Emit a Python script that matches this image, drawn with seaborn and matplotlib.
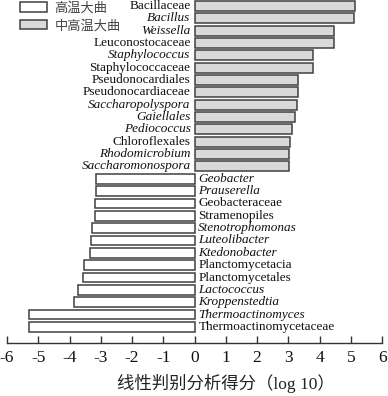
import matplotlib
matplotlib.use('Agg')
import pandas as pd
import seaborn as sns
import matplotlib.pyplot as plt
from matplotlib.patches import Patch

# taxa, top to bottom
taxa = ['Bacillaceae', 'Bacillus', 'Weissella', 'Leuconostocaceae', 'Staphylococcus',
        'Staphylococcaceae', 'Pseudonocardiales', 'Pseudonocardiaceae', 'Saccharopolyspora',
        'Gaiellales', 'Pediococcus', 'Chloroflexales', 'Rhodomicrobium', 'Saccharomonospora',
        'Geobacter', 'Prauserella', 'Geobacteraceae', 'Stramenopiles', 'Stenotrophomonas',
        'Luteolibacter', 'Ktedonobacter', 'Planctomycetacia', 'Planctomycetales',
        'Lactococcus', 'Kroppenstedtia', 'Thermoactinomyces', 'Thermoactinomycetaceae']
scores = [5.13, 5.10, 4.45, 4.45, 3.80, 3.80, 3.30, 3.30, 3.29, 3.20, 3.13, 3.06, 3.03, 3.01,
          -3.14, -3.14, -3.18, -3.20, -3.27, -3.32, -3.36, -3.55, -3.57, -3.74, -3.86,
          -5.29, -5.31]
# genus names are set in italics
italic = [False, True, True, False, True, False, False, False, True, True, True, False, True, True,
          True, True, False, False, True, True, True, False, False, True, True, True, False]
groups = ['高温大曲', '中高温大曲']
groupColors = ['#ffffff', '#d9d9d9']

df = pd.DataFrame({'taxon': taxa, 'score': scores})
df['group'] = [groups[1] if s > 0 else groups[0] for s in scores]

sns.set_theme(style='white')
plt.rcParams['font.family'] = ['Liberation Serif', 'Noto Sans CJK SC']

fig = plt.figure(figsize=(3.88, 3.96), dpi=100)
ax = fig.add_axes([0.018, 0.134, 0.967, 0.866])

sns.barplot(data=df, x='score', y='taxon', hue='group', hue_order=groups,
            palette=dict(zip(groups, groupColors)), dodge=False, width=0.8,
            edgecolor='#404040', linewidth=1.1, orient='h', legend=False, ax=ax)

for i, (t, s, it) in enumerate(zip(taxa, scores, italic)):
    if s > 0:
        ax.text(-0.13, i, t, ha='right', va='center', fontsize=9.5,
                style='italic' if it else 'normal', color='#111111')
    else:
        ax.text(0.12, i, t, ha='left', va='center', fontsize=9.5,
                style='italic' if it else 'normal', color='#111111')

ax.set_xlim(-6, 6)
ax.set_ylim(27.3, -0.48)
ax.set_xticks(range(-6, 7))
ax.set_xticklabels([str(v) for v in range(-6, 7)])
ax.set_yticks([])
ax.set_ylabel('')
ax.set_xlabel('线性判别分析得分（log 10）', fontsize=12.5, color='#222222',
              family=['Liberation Serif', 'Noto Sans CJK SC'])
ax.xaxis.set_label_coords(0.584, -0.117)
ax.xaxis.label.set_va('center')
for side in ['top', 'right', 'left']:
    ax.spines[side].set_visible(False)
ax.spines['bottom'].set_color('#333333')
ax.spines['bottom'].set_linewidth(1.0)
ax.tick_params(axis='x', direction='in', length=5, width=1, color='#333333',
               labelsize=12.5, pad=5, bottom=True, labelcolor='#111111')

handles = [Patch(facecolor=c, edgecolor='#404040', linewidth=1.1) for c in groupColors]
leg = ax.legend(handles, groups, loc='upper left', bbox_to_anchor=(0.004, 1.03),
                frameon=False, handlelength=2.0, handleheight=0.7, handletextpad=0.6,
                labelspacing=0.35, prop={'family': ['Noto Sans CJK SC'], 'size': 9.5})
for txt in leg.get_texts():
    txt.set_color('#444444')

fig.savefig('out.png', dpi=100)
